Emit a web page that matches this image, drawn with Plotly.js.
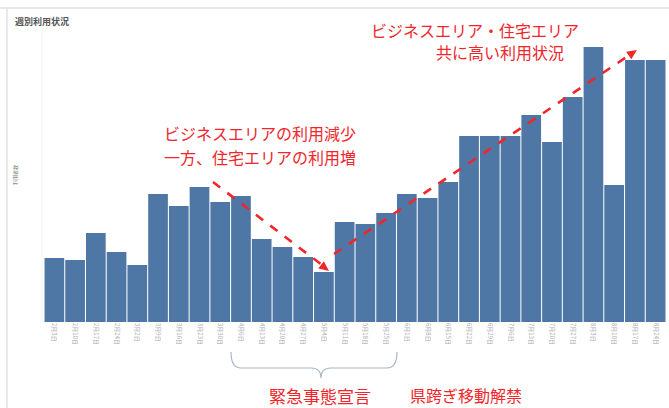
<!DOCTYPE html>
<html>
<head>
<meta charset="utf-8">
<script src="https://cdn.plot.ly/plotly-3.0.1.min.js"></script>
<style>html,body{margin:0;padding:0;background:#fff;}#chart{width:669px;height:408px;}</style>
</head>
<body>
<div id="chart"></div>
<script>
// Weekly labels (week start dates)
const weeks = ["2月3日","2月10日","2月17日","2月24日","3月2日","3月9日","3月16日","3月23日","3月30日",
  "4月6日","4月13日","4月20日","4月27日","5月4日","5月11日","5月18日","5月25日",
  "6月1日","6月8日","6月15日","6月22日","6月29日","7月6日","7月13日","7月20日","7月27日",
  "8月3日","8月10日","8月17日","8月24日"];
// Usage (relative)
const usage = [64,62,89,70,57,128,116,135,120,126,83,75,65,50,100,98,109,128,124,140,186,186,186,207,180,225,275,137,262,262];

const W = 669, H = 408;
const M = {l:44, r:3, t:42, b:86};
const PW = W - M.l - M.r, PH = H - M.t - M.b;
// pixel -> paper helpers for decorations
const px = x => (x - M.l) / PW;
const py = y => (H - M.b - y) / PH;
const red = "#f0262b";

function dashed(x0,y0,x1,y1){
  return {type:"line", xref:"paper", yref:"paper", x0:px(x0), y0:py(y0), x1:px(x1), y1:py(y1),
    line:{color:red, width:2.6, dash:"dash"}};
}
function head(tx,ty,fx,fy){
  const dx = tx-fx, dy = ty-fy, L = Math.hypot(dx,dy), ux = dx/L, uy = dy/L;
  const len = 10, hw = 4.5;
  const bx = tx - ux*len, by = ty - uy*len;
  const p1 = [bx - uy*hw, by + ux*hw], p2 = [bx + uy*hw, by - ux*hw];
  return {type:"path", xref:"paper", yref:"paper",
    path:`M${px(tx)},${py(ty)} L${px(p1[0])},${py(p1[1])} L${px(p2[0])},${py(p2[1])} Z`,
    fillcolor:red, line:{color:red, width:0}};
}
function brace(){
  const L=231, R=397, C=321, top=352, mid=368, tip=378;
  const P = (x,y)=>`${px(x)},${py(y)}`;
  return {type:"path", xref:"paper", yref:"paper",
    path:`M${P(L,top)} Q${P(L,mid)} ${P(L+10,mid)} L${P(C-10,mid)} Q${P(C,mid)} ${P(C,tip)} Q${P(C,mid)} ${P(C+10,mid)} L${P(R-10,mid)} Q${P(R,mid)} ${P(R,top)}`,
    line:{color:"#a9b6c6", width:1.2}};
}

const shapes = [
  {type:"line", xref:"paper", yref:"paper", x0:px(0), x1:px(669), y0:py(8), y1:py(8), line:{color:"#e2e2e2", width:1.5}},
  {type:"line", xref:"paper", yref:"paper", x0:px(7), x1:px(7), y0:py(8), y1:py(408), line:{color:"#e2e2e2", width:1.5}},
  {type:"line", xref:"paper", yref:"paper", x0:px(42), x1:px(42), y0:py(32), y1:py(322), line:{color:"#f0f0f0", width:1}},
  dashed(213,182,322,265), head(329,271,213,182),
  dashed(334,254,628,56), head(637,50,334,254),
  brace()
];

const font = "Noto Sans CJK JP, Noto Sans, sans-serif";
const ann = (text,x,y,xa,size,color)=>({text, xref:"paper", yref:"paper", x:px(x), y:py(y),
  xanchor:xa, yanchor:"middle", showarrow:false, font:{family:font, size, color}});

const annotations = [
  Object.assign(ann("週別利用状況", 13, 21, "left", 9, "#555"), {font:{family:font, size:9, color:"#555", weight:"bold"}}),
  ann("ビジネスエリアの利用減少", 162, 133, "left", 16, red),
  ann("一方、住宅エリアの利用増", 162, 157, "left", 16, red),
  ann("ビジネスエリア・住宅エリア", 369, 30, "left", 16, red),
  ann("共に高い利用状況", 434, 52, "left", 16, red),
  ann("緊急事態宣言", 267, 395, "left", 17, red),
  ann("県跨ぎ移動解禁", 408, 395, "left", 16, red),
  Object.assign(ann("利用者数", 15, 175, "center", 5, "#777"), {textangle:-90})
];

Plotly.newPlot("chart", [{
  type:"bar", x:weeks, y:usage,
  marker:{color:"#4e77a5", line:{width:0}},
  hoverinfo:"x+y"
}], {
  width:W, height:H, margin:M,
  paper_bgcolor:"#fff", plot_bgcolor:"#fff",
  bargap:0.05,
  showlegend:false,
  font:{family:font},
  xaxis:{type:"category", range:[-0.5, weeks.length-0.5], showgrid:false, zeroline:false, showline:false,
    tickangle:90, tickfont:{size:6, color:"#aaa", family:font}, ticks:"", ticklen:0, automargin:false},
  yaxis:{range:[0,PH], showgrid:false, zeroline:false, showline:false, showticklabels:false, ticks:"", fixedrange:true},
  shapes, annotations
}, {displayModeBar:false, staticPlot:true});
</script>
</body>
</html>
